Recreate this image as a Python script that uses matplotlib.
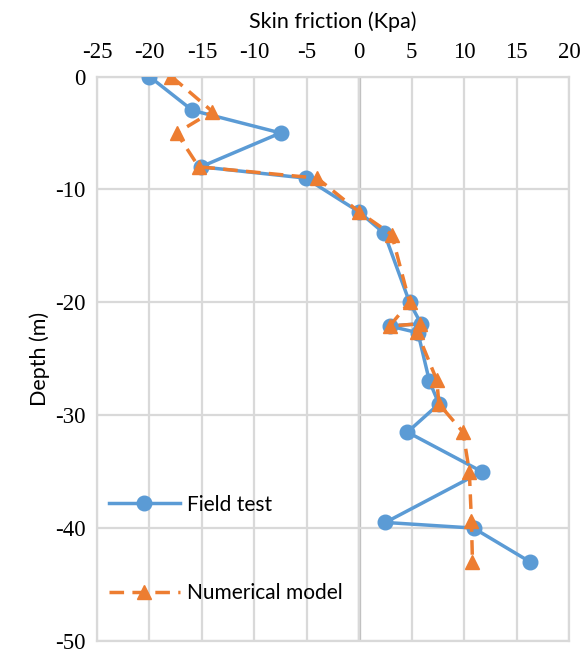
import matplotlib
matplotlib.use("Agg")
import matplotlib.pyplot as plt

plt.rcParams["axes.unicode_minus"] = False

field_x = [-20.0, -15.9, -7.5, -15.1, -5.1, 0.0, 2.4, 4.8, 5.9, 2.9, 5.6, 6.7, 7.6, 4.6, 11.7, 2.5, 10.9, 16.3]
field_y = [0.0, -3.0, -5.0, -8.0, -9.0, -12.0, -13.9, -20.0, -21.9, -22.1, -22.7, -27.0, -29.0, -31.5, -35.0, -39.5, -40.0, -43.0]

model_x = [-17.9, -14.0, -17.4, -15.3, -4.0, 0.0, 3.1, 4.8, 2.9, 5.8, 5.5, 7.4, 7.6, 9.9, 10.5, 10.7, 10.8]
model_y = [0.0, -3.1, -5.0, -8.0, -9.0, -12.0, -14.0, -20.0, -22.1, -21.9, -22.6, -26.9, -29.0, -31.5, -35.0, -39.4, -43.0]

x_ticks = [-25, -20, -15, -10, -5, 0, 5, 10, 15, 20]
y_ticks = [0, -10, -20, -30, -40, -50]

BLUE = "#5B9BD5"
ORANGE = "#ED7D31"
GRID = "#D9D9D9"
AXIS0 = "#BFBFBF"

fig = plt.figure(figsize=(5.87, 6.55), dpi=100)
ax = fig.add_axes([0.1652, 0.0214, 0.8041, 0.8618])

ax.set_xlim(-25, 20)
ax.set_ylim(-50, 0)
ax.set_xticks(x_ticks)
ax.set_yticks(y_ticks)
ax.xaxis.tick_top()
ax.xaxis.set_label_position("top")
ax.tick_params(length=0, labelsize=16.5, pad=8)
for lab in ax.get_xticklabels() + ax.get_yticklabels():
    lab.set_fontfamily("Liberation Serif")
ax.tick_params(axis="x", pad=10)

ax.grid(True, color=GRID, linewidth=1.6, zorder=0)
for s in ax.spines.values():
    s.set_color(GRID)
    s.set_linewidth(1.6)
ax.axvline(0, color=AXIS0, linewidth=2.4, zorder=1)

ax.plot(field_x, field_y, color=BLUE, linewidth=2.5, marker="o", markersize=10.5,
        label="Field test", zorder=3)
ax.plot(model_x, model_y, color=ORANGE, linewidth=2.5, linestyle=(0, (4.2, 2.4)),
        marker="^", markersize=10.5, label="Numerical model", zorder=4)

ax.set_xlabel("Skin friction (Kpa)", fontsize=15.5, fontfamily="Lato", labelpad=10)
ax.set_ylabel("Depth (m)", fontsize=15.5, fontfamily="Lato", labelpad=4)

leg = ax.legend(loc="center left", bbox_to_anchor=(-0.01, 0.163), frameon=False,
                prop={"family": "Lato", "size": 15}, handlelength=3.4,
                labelspacing=3.3, borderpad=0.3, handletextpad=0.35)

fig.savefig("out.png", dpi=100)
